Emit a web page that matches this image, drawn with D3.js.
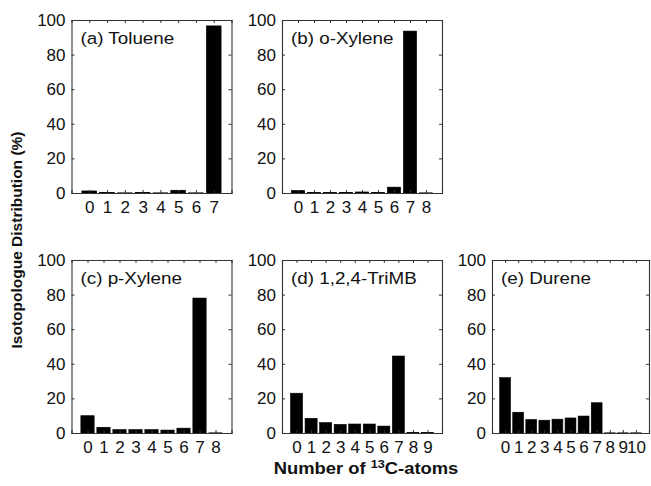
<!DOCTYPE html>
<html>
<head>
<meta charset="utf-8">
<script src="https://cdn.jsdelivr.net/npm/d3@7"></script>
<style>
body { margin: 0; background: #fff; }
text { font-family: "Liberation Sans", Arial, sans-serif; fill: #111; }
</style>
</head>
<body>
<svg id="chart" width="651" height="486"></svg>
<script>
// isotopologue distributions (%), index = number of 13C atoms
var toluene = [1.2, 0.3, 0.1, 0.3, 0.1, 1.6, 0.1, 96.6];
var oXylene = [1.5, 0.3, 0.3, 0.4, 0.6, 0.3, 3.4, 93.6, 0.1];
var pXylene = [10, 3.3, 2, 2, 2, 1.7, 2.8, 78, 0.1];
var triMB = [23, 8.5, 6, 5, 5.2, 5.2, 4, 44.5, 0.2, 0.3];
var durene = [32, 12, 7.8, 7.4, 8, 8.7, 9.8, 17.5, 0.1, 0.1, 0.1];

var panelTitles = ["(a) Toluene", "(b) o-Xylene", "(c) p-Xylene", "(d) 1,2,4-TriMB", "(e) Durene"];
var panelData = [toluene, oXylene, pXylene, triMB, durene];
var yTicks = [0, 20, 40, 60, 80, 100];

// panel boxes: left, top, width, height
var boxes = [
	{x: 71.5, y: 20, w: 160, h: 173},
	{x: 282, y: 20, w: 160, h: 173},
	{x: 71.5, y: 260, w: 160, h: 173},
	{x: 282, y: 260, w: 160, h: 173},
	{x: 492, y: 260, w: 157, h: 173}
];

var svg = d3.select("#chart");

panelData.forEach(function(values, p)
{
	var b = boxes[p];
	var n = values.length;
	var g = svg.append("g")
		.attr("class", "panel" + p)
		.attr("transform", "translate(" + b.x + "," + b.y + ")");

	var x = d3.scaleLinear().domain([-1, n]).range([0, b.w]);
	var y = d3.scaleLinear().domain([0, 100]).range([b.h, 0]);
	var unit = x(1) - x(0);
	var bw = unit * 0.83;
	var idx = d3.range(n);

	g.selectAll("rect.bar")
		.data(values)
		.enter()
		.append("rect")
		.attr("class", "bar")
		.attr("x", function(d, i){ return x(i) - bw / 2; })
		.attr("width", bw)
		.attr("y", function(d){ return y(d); })
		.attr("height", function(d){ return b.h - y(d); })
		.attr("fill", "#000")
		.attr("stroke", "#000")
		.attr("stroke-width", 0.6);

	// inward ticks on all four sides
	var xb = d3.axisBottom(x).tickValues(idx).tickSize(-3).tickPadding(8).tickFormat(d3.format("d"));
	var xt = d3.axisTop(x).tickValues(idx).tickSize(-3).tickFormat("");
	var yl = d3.axisLeft(y).tickValues(yTicks).tickSize(-3).tickPadding(6);
	var yr = d3.axisRight(y).tickValues(yTicks).tickSize(-3).tickFormat("");

	var gx = g.append("g").attr("transform", "translate(0," + b.h + ")").call(xb);
	g.append("g").call(xt);
	var gy = g.append("g").call(yl);
	g.append("g").attr("transform", "translate(" + b.w + ",0)").call(yr);

	g.selectAll(".domain").attr("stroke", "#333").attr("stroke-width", 1.1);
	g.selectAll(".tick line").attr("stroke", "#333");
	gx.selectAll("text").attr("font-size", "17px").attr("fill", "#111");
	gy.selectAll("text").attr("font-size", "17px").attr("fill", "#111");

	// the source picture is a little stretched sideways
	g.append("text")
		.attr("transform", "translate(9,24) scale(1.14,1)")
		.attr("font-size", "16.5px")
		.text(panelTitles[p]);
});

svg.append("text")
	.attr("transform", "translate(22,240) rotate(-90)")
	.attr("text-anchor", "middle")
	.attr("font-size", "15.5px")
	.attr("font-weight", "bold")
	.text("Isotopologue Distribution (%)");

var xl = svg.append("text")
	.attr("transform", "translate(366,474) scale(1.15,1)")
	.attr("text-anchor", "middle")
	.attr("font-size", "16px")
	.attr("font-weight", "bold");
xl.append("tspan").text("Number of ");
xl.append("tspan").attr("dy", -6).attr("font-size", "11px").text("13");
xl.append("tspan").attr("dy", 6).text("C-atoms");
</script>
</body>
</html>
